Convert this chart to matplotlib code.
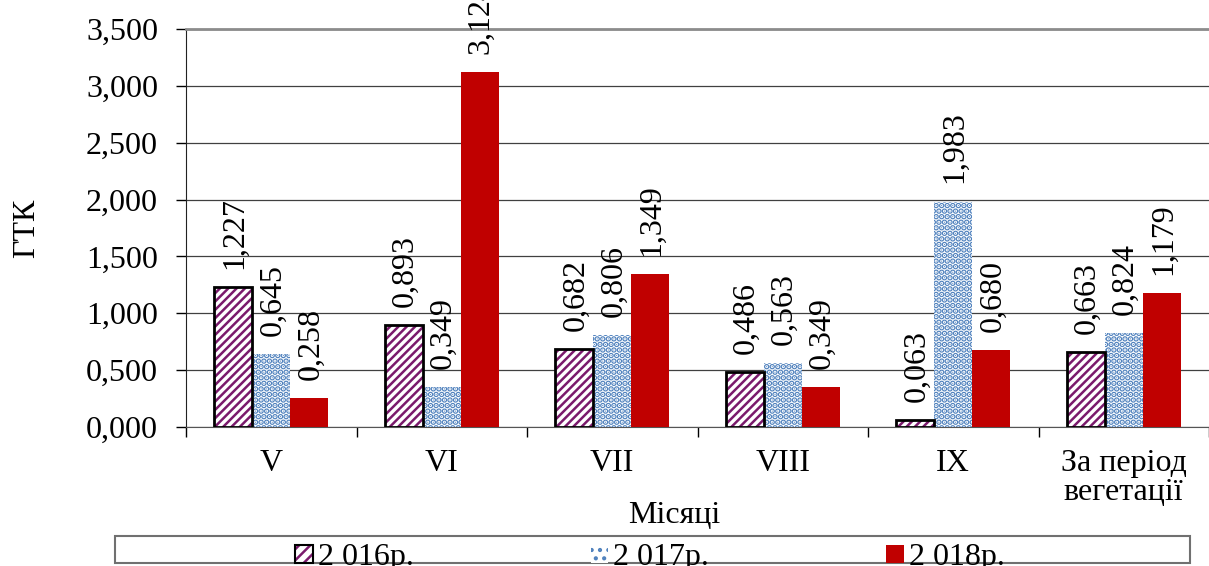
import numpy as np
import matplotlib
matplotlib.use("Agg")
import matplotlib.pyplot as plt
from matplotlib.patches import Patch, Rectangle
from matplotlib.legend_handler import HandlerTuple

plt.rcParams["font.family"] = ["Liberation Serif", "DejaVu Serif"]
plt.rcParams["hatch.linewidth"] = 1.8

# data
months = ["V", "VI", "VII", "VIII", "IX", "За період\nвегетації"]
gtk_2016 = [1.227, 0.893, 0.682, 0.486, 0.063, 0.663]
gtk_2017 = [0.645, 0.349, 0.806, 0.563, 1.983, 0.824]
gtk_2018 = [0.258, 3.124, 1.349, 0.349, 0.680, 1.179]
years = ["2 016р.", "2 017р.", "2 018р."]
y_ticks = [0.0, 0.5, 1.0, 1.5, 2.0, 2.5, 3.0, 3.5]

purple = "#7a1a6c"
blue = "#4f81bd"
red = "#c00000"
fs = 23


def fmt(v):
    return f"{v:.3f}".replace(".", ",")


def hatch_lw(patches, lw):
    # per-patch hatch width where the installed matplotlib allows it
    for p in patches:
        if hasattr(p, "set_hatch_linewidth"):
            p.set_hatch_linewidth(lw)


fig = plt.figure(figsize=(12.09, 5.66), dpi=100)
ax = fig.add_axes([186 / 1209, 1 - 427 / 566, 1 - 186 / 1209, 398 / 566])

x = np.arange(len(months))
w = 0.223

# hatch takes the edge colour, so the black outline goes on a second layer
with plt.rc_context({"hatch.linewidth": 1.8}):
    h1 = ax.bar(x - w, gtk_2016, w, facecolor="white", edgecolor=purple,
                hatch="////", linewidth=0, zorder=3)
hatch_lw(h1, 1.8)
b1 = ax.bar(x - w, gtk_2016, w, fill=False, edgecolor="black",
            linewidth=2.0, zorder=4)
with plt.rc_context({"hatch.linewidth": 3.0}):
    b2 = ax.bar(x, gtk_2017, w, facecolor="white", edgecolor=blue,
                hatch="...", linewidth=0, zorder=3)
hatch_lw(b2, 3.0)
b3 = ax.bar(x + w, gtk_2018, w, color=red, linewidth=0, zorder=3)

for bars, vals in ((b1, gtk_2016), (b2, gtk_2017), (b3, gtk_2018)):
    for rect, v in zip(bars, vals):
        ax.annotate(fmt(v), (rect.get_x() + rect.get_width() / 2, v),
                    xytext=(1, 13), textcoords="offset points",
                    rotation=90, ha="center", va="bottom", fontsize=fs,
                    annotation_clip=False)

ax.set_xlim(-0.5, len(months) - 0.5)
ax.set_ylim(0, 3.5)
ax.set_yticks(y_ticks)
ax.set_yticklabels([fmt(v) for v in y_ticks], fontsize=fs)
ax.tick_params(axis="y", direction="out", length=7.2, width=1, pad=13)

# category boundaries carry the ticks, names sit between them
ax.set_xticks(np.arange(len(months) + 1) - 0.5)
ax.set_xticklabels([])
ax.set_xticks(x, minor=True)
ax.set_xticklabels(months, minor=True, fontsize=fs, linespacing=1.0)
ax.tick_params(axis="x", which="major", direction="out", length=7.2, width=1)
ax.tick_params(axis="x", which="minor", length=0, pad=16)

ax.grid(axis="y", color="#404040", lw=0.9, zorder=0)
ax.set_axisbelow(True)
ax.spines["right"].set_visible(False)
ax.spines["top"].set_color("#8c8c8c")
ax.spines["top"].set_linewidth(2)
ax.spines["bottom"].set_color("#555555")
ax.spines["left"].set_color("#222222")

ax.set_ylabel("ГТК", fontsize=fs)
ax.yaxis.set_label_coords(-0.142, 0.5)
ax.set_xlabel("Місяці", fontsize=fs)
ax.xaxis.set_label_coords(0.477, -0.185)

# legend box; the entry text spills a little past its lower edge
fig.add_artist(Rectangle((115 / 1209, 1 - 563 / 566), 1075 / 1209, 27 / 566,
                         transform=fig.transFigure, fill=False,
                         edgecolor="#707070", lw=1.5))
h2016 = (Patch(facecolor="white", edgecolor=purple, hatch="///", lw=0),
         Patch(fill=False, edgecolor="black", lw=1.5))
h2017 = Patch(facecolor="white", edgecolor=blue, hatch="..", lw=0)
h2018 = Patch(facecolor=red, edgecolor="none")
fig.legend([h2016, h2017, h2018], years, loc="center", ncol=3, frameon=False,
           bbox_to_anchor=(650 / 1209, 1 - 558 / 566), fontsize=fs,
           handlelength=0.55, handleheight=0.5, handletextpad=0.15,
           columnspacing=5.55, borderpad=0,
           handler_map={tuple: HandlerTuple(ndivide=1, pad=0)})

fig.savefig("out.png", dpi=100)
